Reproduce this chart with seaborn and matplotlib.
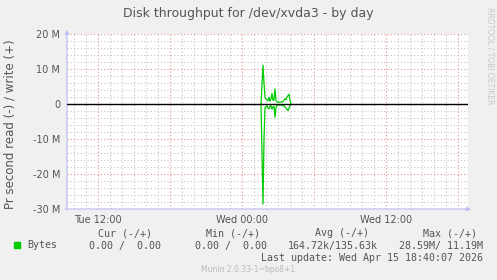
import numpy as np
import pandas as pd
import matplotlib
matplotlib.use("Agg")
import matplotlib.pyplot as plt
import matplotlib.dates as mdates
from matplotlib.ticker import FuncFormatter, MultipleLocator
import seaborn as sns

# ---- data (bytes per second, in millions) ----
start_time = "2026-04-15 01:35"
write_M = [0, 5.5, 11.1, 6.0, 2.0, 1.4, 1.2, 0.9, 1.9, 0.8, 1.5, 3.0, 1.0, 1.2, 4.3,
           1.0, 0.6, 0.5, 0.5, 0.5, 0.6, 0.5, 0.7, 1.0, 1.5, 1.2, 2.0, 2.4, 2.8, 1.0, 0]
read_M = [0, 14.0, 28.6, 10.0, 1.0, 0.8, 0.5, 1.2, 1.4, 0.6, 0.5, 1.5, 0.8, 0.7, 3.8,
          1.0, 0.4, 0.3, 0.3, 0.3, 0.3, 0.4, 0.5, 0.6, 0.8, 1.2, 1.5, 1.9, 1.2, 0.5, 0]
y_ticks = [20e6, 10e6, 0, -10e6, -20e6, -30e6]
y_labels = ["20 M", "10 M", "0", "-10 M", "-20 M", "-30 M"]
x_ticks = ["2026-04-14 12:00", "2026-04-15 00:00", "2026-04-15 12:00"]
x_labels = ["Tue 12:00", "Wed 00:00", "Wed 12:00"]
x_range = ["2026-04-14 09:25", "2026-04-15 18:50"]
title = "Disk throughput for /dev/xvda3 - by day"
ylabel = "Pr second read (-) / write (+)"
legend_cols = ["Cur (-/+)", "Min (-/+)", "Avg (-/+)", "Max (-/+)"]
legend_vals = ["0.00 /  0.00", "0.00 /  0.00", "164.72k/135.63k", "28.59M/ 11.19M"]
last_update = "Last update: Wed Apr 15 18:40:07 2026"
munin_ver = "Munin 2.0.33-1~bpo8+1"
side_text = "RRDTOOL / TOBI OETIKER"

times = pd.date_range(start_time, periods=len(write_M), freq="5min")
df = pd.DataFrame({
    "time": list(times) * 2,
    "value": [v * 1e6 for v in write_M] + [-v * 1e6 for v in read_M],
    "dir": ["write"] * len(write_M) + ["read"] * len(read_M),
})

sns.set_style("white")
plt.rcParams["font.family"] = ["DejaVu Sans"]

W, H = 497, 280
fig = plt.figure(figsize=(W / 100, H / 100), dpi=100, facecolor="#F0F0F0")
ax = fig.add_axes([67 / W, 1 - 209 / H, 401 / W, 175 / H])
ax.set_facecolor("white")

green = "#00CC00"
sns.lineplot(data=df, x="time", y="value", units="dir", estimator=None,
             color=green, lw=0.9, ax=ax, zorder=3)
ax.axhline(0, color="black", lw=1.0, zorder=4)

ax.set_xlim(pd.Timestamp(x_range[0]), pd.Timestamp(x_range[1]))
ax.set_ylim(-30e6, 20e6)

# grid
ax.xaxis.set_major_locator(mdates.HourLocator(byhour=[0, 6, 12, 18]))
ax.xaxis.set_minor_locator(mdates.HourLocator(interval=1))
ax.yaxis.set_major_locator(MultipleLocator(10e6))
ax.yaxis.set_minor_locator(MultipleLocator(2e6))
ax.grid(which="minor", color="#C4C4C4", ls=(0, (1, 2)), lw=0.8, zorder=1)
ax.grid(which="major", color="#E49494", ls=(0, (1, 2)), lw=0.8, zorder=2)

tick_map = {mdates.date2num(pd.Timestamp(t)): l for t, l in zip(x_ticks, x_labels)}
def xfmt(v, pos):
    for k, l in tick_map.items():
        if abs(k - v) < 1e-4:
            return l
    return ""
ax.xaxis.set_major_formatter(FuncFormatter(xfmt))
ylab_map = dict(zip(y_ticks, y_labels))
def yfmt(v, pos):
    for k, l in ylab_map.items():
        if abs(k - v) < 1:
            return l
    return ""
ax.yaxis.set_major_formatter(FuncFormatter(yfmt))

txtc = "#555555"
ax.tick_params(axis="both", which="major", labelsize=7, colors="#C8C8F0",
               labelcolor=txtc, length=3, width=0.8)
ax.tick_params(axis="both", which="minor", length=0)
ax.tick_params(axis="x", which="major", pad=1)
ax.tick_params(axis="y", which="major", pad=2)
ax.set_xlabel("")
ax.set_ylabel("")
for s in ax.spines.values():
    s.set_visible(False)
fig.text(10 / W, 1 - 124 / H, ylabel, rotation=90, ha="center", va="center",
         fontsize=8.5, color=txtc)

axc = "#C0C0F0"
ax.annotate("", xy=(0, 1.04), xytext=(0, -0.02), xycoords="axes fraction",
            arrowprops=dict(arrowstyle="-|>", color=axc, lw=0.9, mutation_scale=6))
ax.annotate("", xy=(1.015, 0), xytext=(-0.012, 0), xycoords="axes fraction",
            arrowprops=dict(arrowstyle="-|>", color=axc, lw=0.9, mutation_scale=6))

fig.text(248 / W, 1 - 13 / H, title, ha="center", va="center", fontsize=9, color=txtc)
fig.text(490 / W, 1 - 7 / H, side_text, rotation=-90, ha="center", va="top",
         fontsize=5.5, color="#C8C8C8")

mono = "DejaVu Sans Mono"
fs = 7.2
fig.patches.append(plt.Rectangle((14 / W, 1 - 248 / H), 6 / W, 6 / H,
                                 transform=fig.transFigure, color=green))
fig.text(27 / W, 1 - 245.5 / H, "Bytes", ha="left", va="center", family=mono,
         fontsize=fs, color=txtc)
col_centers = [125, 233, 342, 450]
val_right = [161, 267, 378, 483]
for c, h in zip(col_centers, legend_cols):
    fig.text(c / W, 1 - 233 / H, h, ha="center", va="center", family=mono,
             fontsize=fs, color=txtc)
for r, v in zip(val_right, legend_vals):
    fig.text(r / W, 1 - 245.5 / H, v, ha="right", va="center", family=mono,
             fontsize=fs, color=txtc)
fig.text(483 / W, 1 - 258 / H, last_update, ha="right", va="center", family=mono,
         fontsize=fs, color=txtc)
fig.text(248 / W, 1 - 269.5 / H, munin_ver, ha="center", va="center",
         fontsize=5.5, color="#BBBBBB")

fig.savefig("out.png", dpi=100, facecolor=fig.get_facecolor())
